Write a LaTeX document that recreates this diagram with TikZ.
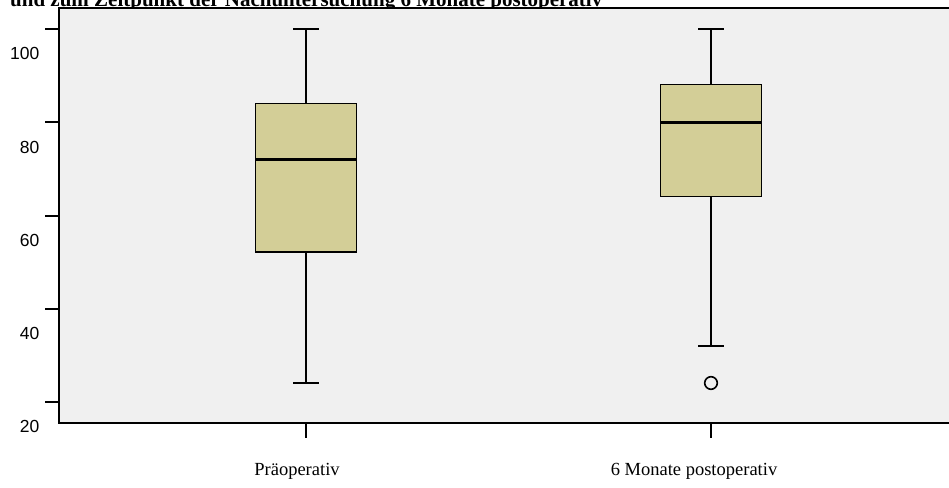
\documentclass[tikz,border=0pt]{standalone}
\usepackage{fontspec}
\setmainfont{Liberation Serif}
\setsansfont{Liberation Sans}
\definecolor{panel}{RGB}{240,240,240}
\definecolor{boxfill}{RGB}{211,206,151}
\begin{document}
\begin{tikzpicture}[x=1pt, y=-1pt, frame/.style={draw=black, line width=2pt}, axtick/.style={draw=black, line width=2pt}, whisk/.style={draw=black, line width=1.6pt}, boxbody/.style={draw=black, line width=1.6pt, fill=boxfill}, median/.style={draw=black, line width=3.2pt}, ylab/.style={anchor=east, inner sep=0pt, font=\sffamily\fontsize{17.5}{20}\selectfont}, xlab/.style={anchor=base, inner sep=0pt, font=\fontsize{18.5}{21}\selectfont}]
        \useasboundingbox (0,0) rectangle (949,487);
        \clip (0,0) rectangle (949,487);
        \def\top{8.5}
        \def\bot{422.5}
        \def\lft{58.5}

        \node[anchor=base west, inner sep=0pt, font=\bfseries\fontsize{21}{24}\selectfont] (title) at (10,7) {und zum Zeitpunkt der Nachuntersuchung 6 Monate postoperativ};

        \fill[panel] (\lft,\top) rectangle (960,\bot);
        \draw[frame] (960,\top) -- (\lft,\top) -- (\lft,\bot) -- (960,\bot);

        % y axis
        \draw[axtick] (45,29) -- (\lft,29);\draw[axtick] (45,122) -- (\lft,122);\draw[axtick] (45,216) -- (\lft,216);\draw[axtick] (45,309) -- (\lft,309);\draw[axtick] (45,402) -- (\lft,402);
        \node[ylab] (y100) at (39.5,53) {100};\node[ylab] (y80) at (39.5,147) {80};\node[ylab] (y60) at (39.5,240) {60};\node[ylab] (y40) at (39.5,333) {40};\node[ylab] (y20) at (39.5,426) {20};

        % x axis
        \draw[axtick] (306,\bot) -- ++(0,15.5);\draw[axtick] (711,\bot) -- ++(0,15.5);
        \node[xlab] (pre) at (297,475) {Präoperativ};
        \node[xlab] (post) at (694,475) {6 Monate postoperativ};

        % Praeoperativ
        \draw[whisk] (306,29) -- (306,103.5);\draw[whisk] (293,29) -- (319,29);
        \draw[whisk] (306,252) -- (306,383);\draw[whisk] (293,383) -- (319,383);
        \filldraw[boxbody] (255.5,103.5) rectangle (356.5,252);
        \draw[median] (255.5,159.5) -- (356.5,159.5);

        % 6 Monate
        \draw[whisk] (711,29) -- (711,84.5);\draw[whisk] (698,29) -- (724,29);
        \draw[whisk] (711,196.5) -- (711,346);\draw[whisk] (698,346) -- (724,346);
        \filldraw[boxbody] (660.5,84.5) rectangle (761.5,196.5);
        \draw[median] (660.5,122.5) -- (761.5,122.5);
        \draw[whisk] (711,383) circle (6.3);
\end{tikzpicture}
\end{document}
